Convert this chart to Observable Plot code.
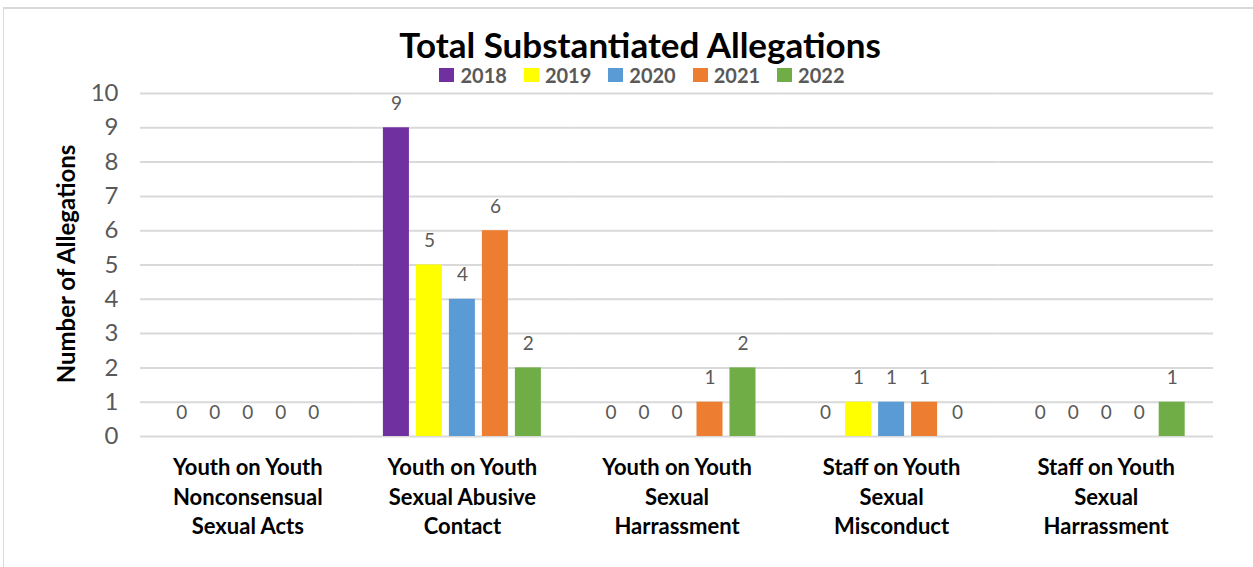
<!DOCTYPE html>
<html>
<head>
<meta charset="utf-8">
<script src="https://cdn.jsdelivr.net/npm/d3@7"></script>
<script src="https://cdn.jsdelivr.net/npm/@observablehq/plot@0.6"></script>
<style>
  html, body { margin: 0; padding: 0; background: #fff; overflow: hidden; }
  body { width: 1253px; height: 567px; position: relative; font-family: Lato, "Open Sans", sans-serif; }
  #frame { position: absolute; left: 3px; top: 7px; width: 1300px; height: 620px;
           border-top: 2px solid #d9d9d9; border-left: 1px solid #d9d9d9; box-sizing: border-box; }
  #title { position: absolute; left: 0; width: 1280px; top: 23px; text-align: center;
           font-size: 35px; font-weight: 700; color: #000; line-height: 42px; }
  #legend { position: absolute; left: 0; width: 1284px; top: 63px; display: flex; justify-content: center;
            gap: 17px; font-size: 20px; font-weight: 700; color: #595959; line-height: 24px; }
  #legend .item { display: flex; align-items: center; gap: 6px; }
  #legend .sw { width: 15px; height: 14px; display: inline-block; }
  #ylabel { position: absolute; left: 65px; top: 264px; transform: translate(-50%, -50%) rotate(-90deg);
            white-space: nowrap; font-size: 24px; font-weight: 700; color: #000; }
  #chart { position: absolute; left: 0; top: 0; }
</style>
</head>
<body>
<div id="frame"></div>
<div id="chart"></div>
<div id="title">Total Substantiated Allegations</div>
<div id="legend"></div>
<div id="ylabel">Number of Allegations</div>
<script>
const categories = [
  "Youth on Youth Nonconsensual Sexual Acts",
  "Youth on Youth Sexual Abusive Contact",
  "Youth on Youth Sexual Harrassment",
  "Staff on Youth Sexual Misconduct",
  "Staff on Youth Sexual Harrassment"
];
const categoryLabels = [
  "Youth on Youth\nNonconsensual\nSexual Acts",
  "Youth on Youth\nSexual Abusive\nContact",
  "Youth on Youth\nSexual\nHarrassment",
  "Staff on Youth\nSexual\nMisconduct",
  "Staff on Youth\nSexual\nHarrassment"
];
const years = ["2018", "2019", "2020", "2021", "2022"];
const v2018 = [0, 9, 0, 0, 0];
const v2019 = [0, 5, 0, 1, 0];
const v2020 = [0, 4, 0, 1, 0];
const v2021 = [0, 6, 1, 1, 0];
const v2022 = [0, 2, 2, 0, 1];
const colors = ["#7030A0", "#FFFF00", "#5B9BD5", "#ED7D31", "#70AD47"];
const yTicks = [0, 1, 2, 3, 4, 5, 6, 7, 8, 9, 10];

const seriesValues = [v2018, v2019, v2020, v2021, v2022];
const data = [];
categories.forEach((c, i) => {
  years.forEach((y, j) => data.push({category: c, year: y, value: seriesValues[j][i]}));
});
const labelRows = categories.map((c, i) => ({category: c, label: categoryLabels[i]}));

const chart = Plot.plot({
  width: 1253,
  height: 567,
  marginLeft: 140,
  marginRight: 40,
  marginTop: 93,
  marginBottom: 131,
  style: {fontFamily: "Lato, 'Open Sans', sans-serif", background: "transparent", overflow: "visible"},
  fx: {domain: categories, padding: 0, round: false, axis: null},
  x: {domain: years, paddingInner: 0.212, paddingOuter: 0.858, round: false, axis: null},
  y: {domain: [0, 10]},
  color: {domain: years, range: colors},
  marks: [
    Plot.ruleY(yTicks, {y: d => d, stroke: "#d9d9d9", strokeWidth: 2}),
    Plot.axisY(yTicks, {tickSize: 0, tickPadding: 22, fontSize: 24, color: "#595959", label: null}),
    Plot.barY(data, {fx: "category", x: "year", y: "value", fill: "year"}),
    Plot.text(data, {fx: "category", x: "year", y: "value", text: d => String(d.value), dy: -24,
                     fontSize: 19, fill: "#595959"}),
    Plot.text(labelRows, {fx: "category", text: "label", frameAnchor: "bottom", lineAnchor: "top",
                          dy: 18, lineHeight: 1.33, fontSize: 22, fontWeight: "bold", fill: "#000"})
  ]
});
document.getElementById("chart").appendChild(chart);

const legend = document.getElementById("legend");
years.forEach((y, i) => {
  const item = document.createElement("span");
  item.className = "item";
  const sw = document.createElement("span");
  sw.className = "sw";
  sw.style.background = colors[i];
  const t = document.createElement("span");
  t.textContent = y;
  item.appendChild(sw);
  item.appendChild(t);
  legend.appendChild(item);
});
</script>
</body>
</html>
